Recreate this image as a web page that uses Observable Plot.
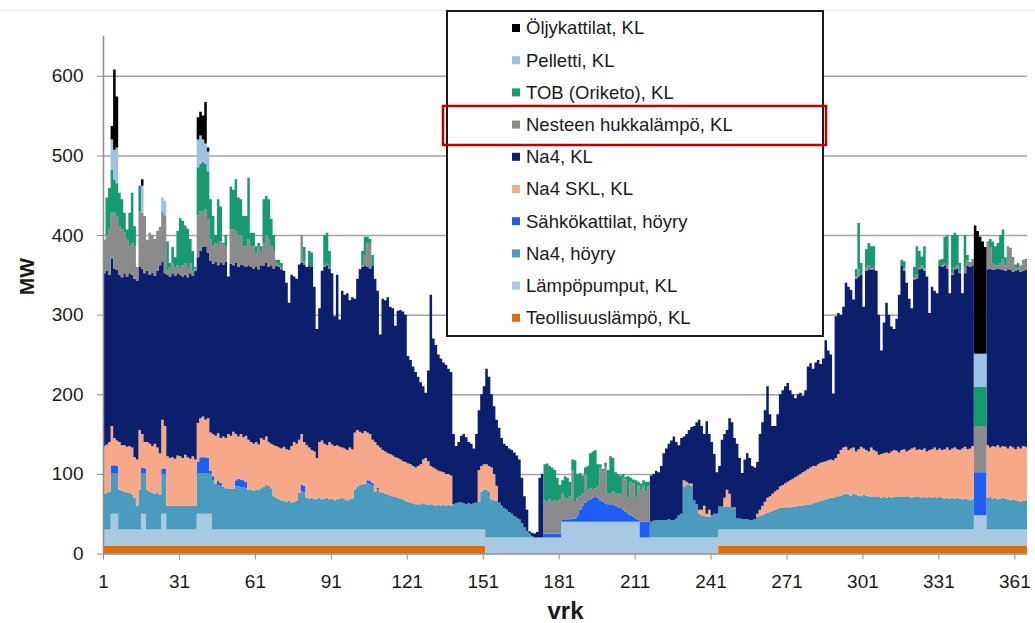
<!DOCTYPE html>
<html><head><meta charset="utf-8">
<script src="https://cdn.jsdelivr.net/npm/d3@7"></script>
<script src="https://cdn.jsdelivr.net/npm/@observablehq/plot@0.6"></script>
<style>
html,body{margin:0;padding:0;background:#fff;}
#chart{position:relative;width:1035px;height:623px;}
#chart svg g[aria-label^="x-axis"] path, #chart svg g[aria-label^="y-axis"] path,
#chart svg g[aria-label^="x-axis"] line, #chart svg g[aria-label^="y-axis"] line {stroke:#8c8c8c;}
</style></head><body><div id="chart"></div>
<script>
// ---- tick labels ----
const xTicks = [1,31,61,91,121,151,181,211,241,271,301,331,361];
const yTicks = [0,100,200,300,400,500,600];

// ---- series (bottom to top of the stack) ----
const seriesNames = ["Teollisuuslämpö, KL","Lämpöpumput, KL","Na4, höyry","Sähkökattilat, höyry","Na4 SKL, KL","Na4, KL","Nesteen hukkalämpö, KL","TOB (Oriketo), KL","Pelletti, KL","Öljykattilat, KL"];
const seriesColors = ["#e36c0a","#a7cae2","#4b9bbf","#1f5ef5","#f7a888","#0b1f6c","#8b8b8b","#179a72","#9cc3e4","#000000"];

// runs: [firstDay, lastDay, MW]
const teollisuusRuns = [[1,151,10],[244,365,10]];
const lampopumputRuns = [[1,3,20],[4,6,40],[7,15,20],[16,17,40],[18,23,20],[24,25,40],[26,37,20],[38,43,40],[44,181,20],[182,212,40],[213,344,20],[345,349,38],[350,365,20]];
const sahkoRuns = [[4,5,10],[6,6,9],[16,16,7],[17,17,6],[24,25,6],[38,38,14],[39,41,20],[42,42,19],[43,43,4],[44,44,5],[46,46,5],[47,47,4],[53,53,8],[54,55,10],[56,56,9],[57,57,8],[79,80,8],[105,107,4],[109,109,3],[175,181,5],[182,183,2],[184,185,3],[186,187,4],[188,188,8],[189,189,15],[190,190,20],[191,191,24],[192,192,26],[193,193,28],[194,194,30],[195,195,31],[196,196,30],[197,197,27],[198,198,25],[199,199,23],[200,201,22],[202,202,21],[203,203,20],[204,204,18],[205,205,17],[206,206,15],[207,207,12],[208,208,10],[209,209,8],[210,210,6],[211,211,4],[212,212,2],[213,216,20],[345,349,54]];

// daily values, days 1..365
const na4Hoyry = [
45,46,48,51,51,51,50,49,48,47, 46,44,40,30,50,51,51,50,48,46, 45,46,44,50,50,30,30,30,30,30,
30,30,30,30,30,30,30,51,51,51, 51,51,50,62,58,56,55,54,52,52, 51,51,54,54,53,53,52,50,50,49,
50,50,52,54,56,55,52,42,40,38, 37,36,35,36,34,35,36,46,48,47, 40,39,40,38,39,40,38,39,40,38,
39,37,38,39,40,38,37,38,39,50, 54,56,57,58,58,57,55,48,50,48, 46,45,44,43,42,41,40,39,38,36,
35,34,33,32,32,32,33,32,31,32, 31,30,31,30,31,30,31,30,32,33, 34,34,33,32,33,32,33,34,35,48,
50,60,58,48,47,46,44,40,37,35, 32,30,27,25,23,18,13,8,5,2, 0,0,0,0,0,0,0,0,0,0,
0,0,0,0,0,0,0,0,0,0, 0,0,0,0,0,0,0,0,0,0, 0,0,0,0,0,0,0,0,0,0,
0,0,0,0,0,0,20,21,22,22, 22,22,22,23,22,22,24,28,30,64, 66,66,65,47,42,30,28,27,26,26,
28,30,30,29,29,29,29,29,28,28, 14,14,13,13,13,12,12,13,16,17, 18,20,21,22,24,25,26,27,27,28,
28,28,29,29,30,30,30,31,31,32, 33,34,35,36,37,38,39,40,40,41, 42,43,44,45,44,43,45,44,43,42,
44,43,42,41,42,42,41,40,41,40, 41,40,41,42,41,42,41,42,41,40, 41,42,41,40,41,40,41,40,41,40,
41,40,39,40,39,40,39,40,39,38, 39,38,37,38,0,0,0,0,0,40, 41,39,40,38,39,40,39,38,37,38,
37,36,35,36,37];

const na4Skl = [
60,61,62,49,34,32,60,57,58,57, 59,59,51,58,75,42,33,60,60,59, 63,57,52,62,54,62,60,61,59,63,
62,60,64,61,59,62,58,49,49,51, 47,50,48,53,60,60,56,63,63,68, 67,72,58,53,57,54,58,63,60,59,
60,57,63,59,61,55,56,64,65,65, 65,68,66,64,71,75,72,67,64,55, 66,64,60,60,51,70,74,69,66,72,
68,68,68,65,63,64,63,65,62,72, 71,67,64,66,60,59,54,62,53,55, 54,53,52,52,51,50,50,49,48,49,
48,48,47,46,48,50,55,58,55,48, 47,46,43,43,41,40,39,38,0,0, 0,0,0,0,0,0,0,0,40,32,
32,32,32,40,33,19,0,0,0,0, 0,0,0,0,0,0,0,0,0,0, 0,0,0,0,0,0,0,0,0,0,
0,0,0,0,0,0,0,0,0,0, 0,0,0,0,0,0,0,0,0,0, 0,0,0,0,0,0,0,0,0,0,
0,0,0,0,0,0,0,0,0,0, 0,0,0,0,0,0,0,0,0,8, 4,2,3,0,0,5,7,13,4,9,
0,0,0,0,0,11,21,16,0,0, 0,0,0,0,0,0,0,0,4,8, 12,15,19,20,21,23,24,27,29,30,
32,34,35,37,38,40,42,43,45,46, 47,46,47,48,48,48,48,48,47,49, 53,57,59,59,56,59,58,54,58,62,
58,57,56,62,58,56,53,55,55,57, 55,58,59,57,56,58,60,56,59,62, 62,58,60,60,61,58,59,61,62,60,
61,60,62,63,61,62,64,61,61,64, 65,63,65,67,0,0,0,0,0,66, 62,66,64,68,64,65,65,64,68,65,
64,68,67,69,67];

const na4Kl = [
217,218,210,211,213,214,210,211,216,214, 217,217,224,225,205,208,212,215,212,218, 211,222,236,198,192,228,228,231,230,229,
228,228,226,226,233,227,237,208,210,213, 218,208,216,214,218,211,220,216,221,198, 216,209,215,213,213,216,212,219,220,220,
220,220,217,218,218,220,224,222,226,227, 225,221,209,185,215,208,207,220,215,223, 224,229,230,207,162,168,213,222,226,218,
215,163,214,160,197,193,197,185,191,168, 190,204,209,207,208,208,218,205,194,142, 190,190,196,185,185,165,185,188,188,185,
135,131,125,120,112,103,92,82,114,215, 162,156,146,142,138,137,132,130,88,72, 76,84,87,84,77,76,69,86,75,90,
98,120,112,92,85,83,94,85,81,80, 80,80,80,78,75,57,39,27,3,4, 5,7,75,80,0,0,0,0,0,0,
0,0,0,0,0,0,0,0,0,0, 0,0,0,0,0,0,0,0,0,0, 0,0,0,0,0,0,0,0,0,0,
0,0,0,0,0,0,58,59,62,60, 68,84,90,95,100,105,96,88,95,55, 60,67,71,93,103,113,105,90,116,95,
92,75,52,51,84,80,75,95,107,87, 94,76,58,75,83,78,68,65,65,95, 105,115,140,103,85,82,95,116,119,122,
124,113,106,99,102,102,96,101,129,131, 122,130,131,124,130,152,138,132,84,178, 177,170,177,206,205,199,186,217,217,216,
178,225,229,223,227,227,176,130,164,188, 174,157,152,166,198,231,224,212,190,176, 211,215,226,228,223,220,172,204,197,197,
229,230,231,225,197,218,224,227,222,195, 218,230,228,227,0,0,0,0,0,221, 225,221,223,222,224,221,221,225,221,221,
224,222,222,220,222];

// sparse days: [day, MW]
const nesteenPairs = [[1,42],[2,45],[3,57],[4,57],[5,70],[6,68],[7,61],[8,60],[9,51],[10,46],[11,34],[12,40],[13,41],[14,17],[15,70],[16,70],[17,72],[18,39],[19,53],[20,47],[21,46],[22,50],[23,48],[24,64],[25,73],[26,5],[27,12],[28,13],[29,11],[30,10],[31,10],[32,14],[33,15],[34,13],[35,13],[36,6],[37,3],[38,53],[39,50],[40,45],[41,46],[42,42],[43,26],[44,22],[45,24],[46,28],[47,27],[48,25],[49,19],[51,43],[52,45],[53,40],[54,40],[55,37],[56,24],[57,26],[58,33],[59,26],[60,28],[61,17],[62,28],[63,18],[64,29],[65,35],[66,35],[67,24],[68,22],[69,4],[70,2],[71,3],[79,35],[80,4],[88,2],[89,2],[90,2],[103,2],[104,14],[105,30],[106,32],
[175,42],[176,41],[177,43],[178,41],[179,42],[180,40],[181,43],[182,33],[183,28],[184,25],[185,29],[186,61],[187,22],[188,22],[189,17],[190,15],[191,36],[192,14],[193,14],[194,10],[195,11],[196,14],[197,41],[198,38],[199,47],[200,13],[201,14],[202,17],[203,15],[204,18],[205,17],[206,40],[207,41],[208,20],[209,42],[210,42],[211,26],[212,43],[213,40],[214,45],[215,38],[216,44],
[298,3],[299,9],[302,5],[303,5],[304,4],[305,3],[317,3],[321,3],[322,5],[323,3],[324,4],[325,3],[332,2],[333,2],[334,4],[336,2],[337,3],[338,4],[339,4],[341,8],[342,7],[343,6],[344,8],[345,58],[346,58],[347,58],[348,58],[349,58],[350,33],[351,27],[352,9],[353,5],[354,4],[355,8],[356,14],[357,7],[358,29],[359,26],[360,16],[361,5],[362,2],[363,8],[364,14],[365,12]];

const tobPairs = [[2,47],[3,52],[4,54],[5,42],[6,41],[7,42],[8,38],[9,25],[10,13],[11,42],[12,63],[13,25],[15,32],[26,37],[27,5],[28,20],[29,12],[30,43],[31,61],[32,56],[33,47],[34,48],[35,30],[36,25],[37,2],[38,60],[39,60],[40,62],[41,58],[42,60],[43,51],[44,38],[45,10],[46,55],[47,44],[48,2],[49,15],[51,54],[52,50],[53,65],[54,47],[55,45],[56,38],[57,38],[58,77],[59,17],[60,17],[61,9],[62,5],[63,6],[64,55],[65,49],[66,50],[67,34],[68,20],[69,4],[70,7],[71,5],[80,18],[82,18],[83,18],[88,38],[89,39],[90,20],[103,18],[104,23],[105,8],[106,5],[107,14],
[175,45],[176,47],[177,42],[178,42],[179,38],[180,30],[181,18],[182,17],[183,27],[184,27],[185,18],[186,13],[187,51],[188,30],[189,29],[190,23],[191,8],[192,30],[193,44],[194,48],[195,48],[196,28],[197,4],[198,3],[199,4],[200,30],[201,46],[202,42],[203,27],[204,24],[205,24],[206,5],[207,3],[208,27],[209,5],[210,5],[211,22],[212,5],[213,8],[214,7],[215,12],[216,6],
[298,9],[299,58],[300,15],[302,22],[303,28],[304,26],[305,26],[316,8],[317,9],[321,13],[322,36],[323,20],[324,11],[325,28],[331,8],[332,8],[333,34],[334,37],[336,48],[337,43],[338,38],[339,9],[341,40],[342,7],[345,49],[346,49],[347,49],[348,49],[349,49],[350,2],[351,10],[352,27],[353,24],[354,28],[355,35],[356,37],[357,10],[359,2],[360,2],[361,3],[362,7],[365,2]];

const pellettiPairs = [[4,38],[5,37],[6,45],[16,34],[24,17],[25,18],[38,35],[39,35],[40,28],[41,25],[42,25],[345,42],[346,42],[347,42],[348,42],[349,42]];
const oljyPairs = [[4,17],[5,101],[6,64],[16,8],[38,28],[39,30],[40,30],[41,52],[42,5],[345,161],[346,154],[347,147],[348,141],[349,134]];

// ---- expand to daily arrays ----
const NDAYS = 365;
function fromRuns(runs){const a=new Array(NDAYS).fill(0);for(const [f,t,v] of runs)for(let d=f;d<=t;d++)a[d-1]=v;return a;}
function fromPairs(pairs){const a=new Array(NDAYS).fill(0);for(const [d,v] of pairs)a[d-1]=v;return a;}

const seriesValues = [
  fromRuns(teollisuusRuns), fromRuns(lampopumputRuns), na4Hoyry, fromRuns(sahkoRuns),
  na4Skl, na4Kl, fromPairs(nesteenPairs), fromPairs(tobPairs), fromPairs(pellettiPairs), fromPairs(oljyPairs)
];

const rows = [];
seriesNames.forEach((name, i) => {
  const vals = seriesValues[i];
  for (let d = 1; d <= NDAYS + 1; d++) rows.push({day: d, series: name, value: vals[Math.min(d, NDAYS) - 1]});
});

const FONT = "'Liberation Sans', Arial, sans-serif";

const plot = Plot.plot({
  width: 1035, height: 623,
  marginLeft: 103, marginRight: 8, marginTop: 36, marginBottom: 69.5,
  style: {fontFamily: FONT, fontSize: "19px", color: "#1a1a1a", background: "white", overflow: "visible"},
  x: {domain: [1, NDAYS + 1], ticks: xTicks, tickSize: 6, tickPadding: 14, tickFormat: d => String(d), label: null},
  y: {domain: [0, 650], ticks: yTicks, tickSize: 6, tickPadding: 14, tickFormat: d => String(d), label: null},
  color: {domain: seriesNames, range: seriesColors},
  marks: [
    Plot.ruleY(yTicks.filter(d => d > 0), {stroke: "#a3a3a3", strokeWidth: 1.5}),
    Plot.areaY(rows, {x: "day", y: "value", z: "series", fill: "series", curve: "step-after"}),
    Plot.ruleX([1], {y1: 0, y2: 650, stroke: "#8c8c8c", strokeWidth: 1.5}),
    Plot.ruleY([0], {stroke: "#8c8c8c", strokeWidth: 1.5}),
    Plot.text(["vrk"], {frameAnchor: "bottom", dy: 57, text: d => d, fontWeight: "bold", fontSize: 24, lineAnchor: "middle", fill: "#1a1a1a"}),
    Plot.text(["MW"], {frameAnchor: "left", dx: -76, rotate: -90, text: d => d, fontWeight: "bold", fontSize: 21, lineAnchor: "middle", fill: "#1a1a1a"})
  ]
});

document.getElementById("chart").appendChild(plot);

// ---- legend box drawn on top of the chart ----
const svg = d3.select(plot);
svg.append("line").attr("x1", 0).attr("x2", 1035).attr("y1", 10.5).attr("y2", 10.5).attr("stroke", "#e6e6e6");
const lg = svg.append("g").attr("font-family", FONT).attr("text-anchor", "start");
lg.append("rect").attr("x", 447).attr("y", 11).attr("width", 376).attr("height", 325)
  .attr("fill", "white").attr("stroke", "#1a1a1a").attr("stroke-width", 2);
const legendOrder = seriesNames.map((n, i) => ({name: n, color: seriesColors[i]})).reverse();
legendOrder.forEach((item, i) => {
  const cy = 28 + i * 32.2;
  lg.append("rect").attr("x", 512).attr("y", cy - 4).attr("width", 8).attr("height", 8).attr("fill", item.color);
  lg.append("text").attr("x", 526).attr("y", cy).attr("dy", "0.35em").attr("font-size", 18.5)
    .attr("text-anchor", "start").attr("fill", "#1a1a1a").text(item.name);
});
lg.append("rect").attr("x", 443).attr("y", 106).attr("width", 383).attr("height", 39)
  .attr("fill", "none").attr("stroke", "#c00000").attr("stroke-width", 2.5);
</script></body></html>
